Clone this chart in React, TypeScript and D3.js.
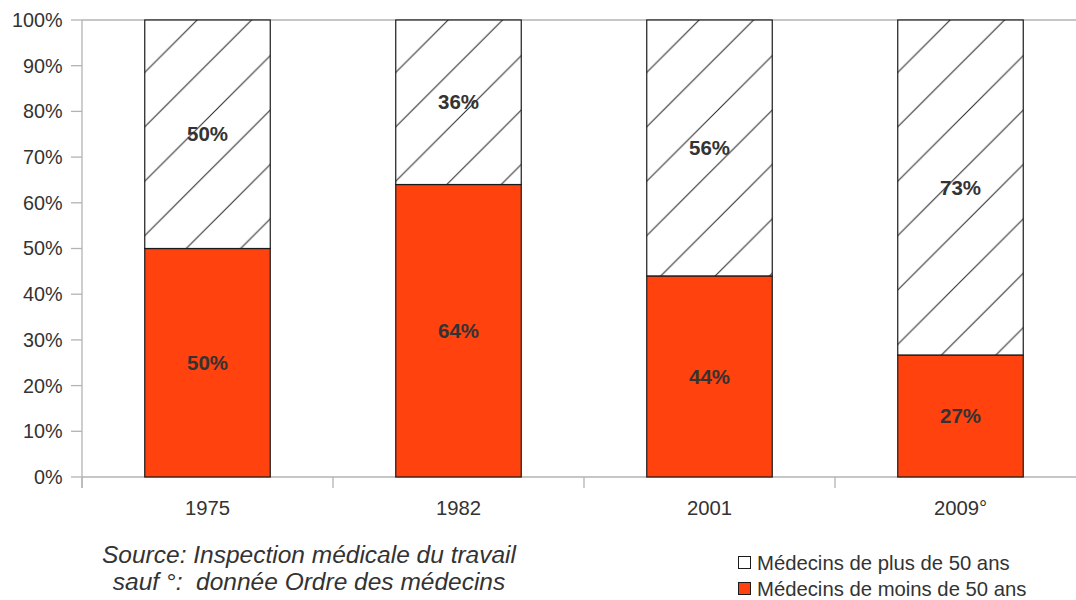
import { useEffect, useRef } from 'react';
import * as d3 from 'd3';

const years = ['1975', '1982', '2001', '2009°'];
const moins50 = [50, 64, 44, 26.7];
const plus50 = [50, 36, 56, 73.3];
const yTicks = [0, 10, 20, 30, 40, 50, 60, 70, 80, 90, 100];
const sourceLines = ['Source: Inspection médicale du travail', 'sauf °:  donnée Ordre des médecins'];
const legendItems = [
  { label: 'Médecins de plus de 50 ans', fill: '#ffffff' },
  { label: 'Médecins de moins de 50 ans', fill: '#ff420e' },
];

export default function App() {
  const svgRef = useRef<SVGSVGElement>(null);

  useEffect(() => {
    if (!svgRef.current) return;
    const svg = d3.select(svgRef.current);
    svg.selectAll('*').remove();

    const W = 1076;
    const H = 600;
    const left = 82;
    const top = 20;
    const bottom = 477;
    const axisColor = '#b3b3b3';
    const textColor = '#333333';
    const font = '"Liberation Sans", Arial, sans-serif';

    svg.attr('width', W).attr('height', H).style('font-family', font);

    const x = d3.scaleBand<string>()
      .domain(years)
      .range([left, left + 251 * years.length])
      .paddingInner(0.5)
      .paddingOuter(0.25);

    const y = d3.scaleLinear().domain([0, 100]).range([bottom, top]);

    // grid line at 100%
    svg.append('line')
      .attr('x1', left).attr('x2', W)
      .attr('y1', y(100)).attr('y2', y(100))
      .attr('stroke', axisColor).attr('stroke-width', 1.3);

    // Y axis
    svg.append('line')
      .attr('x1', left).attr('x2', left)
      .attr('y1', top).attr('y2', bottom + 11)
      .attr('stroke', axisColor).attr('stroke-width', 1.3);

    const yt = svg.append('g');
    yTicks.forEach(t => {
      yt.append('line')
        .attr('x1', left - 11).attr('x2', left)
        .attr('y1', y(t)).attr('y2', y(t))
        .attr('stroke', axisColor).attr('stroke-width', 1.3);
      yt.append('text')
        .attr('x', 62.5)
        .attr('y', y(t))
        .attr('dy', '0.35em')
        .attr('text-anchor', 'end')
        .style('fill', textColor)
        .style('font-size', '19.8px')
        .text(`${t}%`);
    });

    // X axis
    svg.append('line')
      .attr('x1', left).attr('x2', W)
      .attr('y1', bottom).attr('y2', bottom)
      .attr('stroke', axisColor).attr('stroke-width', 1.3);

    years.forEach(yr => {
      const bx = (x(yr) ?? 0) - x.step() * x.paddingInner() / 2;
      svg.append('line')
        .attr('x1', bx).attr('x2', bx)
        .attr('y1', bottom).attr('y2', bottom + 11)
        .attr('stroke', axisColor).attr('stroke-width', 1.3);
      svg.append('text')
        .attr('x', (x(yr) ?? 0) + x.bandwidth() / 2)
        .attr('y', 515)
        .attr('text-anchor', 'middle')
        .style('fill', textColor)
        .style('font-size', '20.3px')
        .text(yr);
    });

    // Hatch patterns, one per bar so the stripes start at each bar's corner
    const defs = svg.append('defs');
    const s = 54.4;
    years.forEach((yr, i) => {
      const p = defs.append('pattern')
        .attr('id', `hatch-${i}`)
        .attr('patternUnits', 'userSpaceOnUse')
        .attr('x', (x(yr) ?? 0) - 1)
        .attr('y', top - 1)
        .attr('width', s)
        .attr('height', s);
      p.append('rect').attr('width', s).attr('height', s).attr('fill', '#ffffff');
      p.append('path')
        .attr('d', `M0,${s}L${s},0M-4,4L4,-4M${s - 4},${s + 4}L${s + 4},${s - 4}`)
        .attr('stroke', '#222222')
        .attr('stroke-width', 1);
    });

    const bars = svg.append('g');
    years.forEach((yr, i) => {
      const bx = x(yr) ?? 0;
      const bw = x.bandwidth();
      // lower segment
      bars.append('rect')
        .attr('x', bx).attr('y', y(moins50[i]))
        .attr('width', bw).attr('height', y(0) - y(moins50[i]))
        .attr('fill', '#ff420e')
        .attr('stroke', '#1a1a1a').attr('stroke-width', 1.2);
      // upper segment
      bars.append('rect')
        .attr('x', bx).attr('y', y(moins50[i] + plus50[i]))
        .attr('width', bw).attr('height', y(moins50[i]) - y(moins50[i] + plus50[i]))
        .attr('fill', `url(#hatch-${i})`)
        .attr('stroke', '#1a1a1a').attr('stroke-width', 1.2);

      bars.append('text')
        .attr('x', bx + bw / 2)
        .attr('y', y(moins50[i] / 2))
        .attr('dy', '0.35em')
        .attr('text-anchor', 'middle')
        .style('fill', textColor)
        .style('font-size', '20.5px')
        .style('font-weight', 'bold')
        .text(`${Math.round(moins50[i])}%`);
      bars.append('text')
        .attr('x', bx + bw / 2)
        .attr('y', y(moins50[i] + plus50[i] / 2))
        .attr('dy', '0.35em')
        .attr('text-anchor', 'middle')
        .style('fill', textColor)
        .style('font-size', '20.5px')
        .style('font-weight', 'bold')
        .text(`${Math.round(plus50[i])}%`);
    });

    // Source note
    sourceLines.forEach((line, i) => {
      svg.append('text')
        .attr('x', 309)
        .attr('y', 563 + i * 27)
        .attr('text-anchor', 'middle')
        .style('fill', textColor)
        .style('font-size', '24.5px')
        .style('font-style', 'italic')
        .style('white-space', 'pre')
        .text(line);
    });

    // Legend
    legendItems.forEach((item, i) => {
      const ly = 570 + i * 26;
      svg.append('rect')
        .attr('x', 738.5).attr('y', ly - 13.5)
        .attr('width', 12).attr('height', 12)
        .attr('fill', item.fill)
        .attr('stroke', '#1a1a1a').attr('stroke-width', 1);
      svg.append('text')
        .attr('x', 757)
        .attr('y', ly)
        .style('fill', textColor)
        .style('font-size', '20.3px')
        .text(item.label);
    });
  }, []);

  return (
    <div style={{ position: 'absolute', left: 0, top: 0, width: 1076, height: 600, background: '#ffffff' }}>
      <svg ref={svgRef} style={{ display: 'block' }} />
    </div>
  );
}
